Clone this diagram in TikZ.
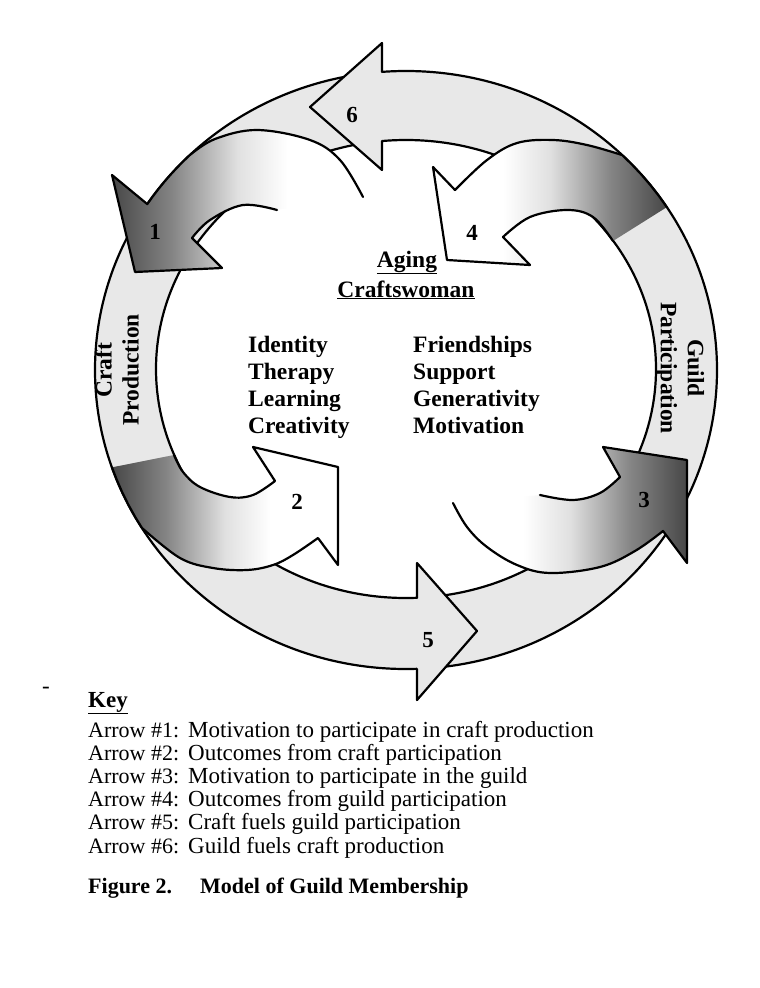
\documentclass[tikz,border=0pt]{standalone}
\usepackage{fontspec}
\setmainfont{Liberation Serif}
% dark at the left end, white at the right end
\pgfdeclarehorizontalshading{tailshade}{100bp}{color(0bp)=(black!72); color(25bp)=(black!72); color(37bp)=(black!48); color(50bp)=(black!12); color(60bp)=(white); color(100bp)=(white)}

\begin{document}
\begin{tikzpicture}[x=1pt, y=-1pt,
    edge/.style={line width=2.2pt, line join=round, line cap=round},
    ringfill/.style={fill=black!9},
    word/.style={font=\fontsize{23.5}{27}\selectfont\bfseries, inner sep=0pt},
    digit/.style={font=\fontsize{23}{26}\selectfont\bfseries, inner sep=0pt},
    keytext/.style={font=\fontsize{23}{26}\selectfont, inner sep=0pt, anchor=base west}]
    \useasboundingbox (0,0) rectangle (760,988);

    % Outer ring (arrows 5 and 6)
    \fill[ringfill, even odd rule] (406,370) ellipse [x radius=311, y radius=299] (406,369) ellipse [x radius=250, y radius=229];
    \draw[edge] (406,370) ellipse [x radius=311, y radius=299];
    \draw[edge] (406,369) ellipse [x radius=250, y radius=229];

    % Head of arrow 6 (top, pointing left)
    \fill[ringfill] (382,43) -- (310,107) -- (382,170) -- cycle;
    \draw[edge] (382,72) -- (382,43) -- (310,107) -- (382,170) -- (382,141);
    % Head of arrow 5 (bottom, pointing right)
    \fill[ringfill] (417,563) -- (477,631) -- (417,700) -- cycle;
    \draw[edge] (417,598) -- (417,563) -- (477,631) -- (417,700) -- (417,669);

    % Arrow 1 (top left, into craft production)
    \shade[shading=tailshade] (363,197) -- plot[smooth, tension=0.6] coordinates {(363,197) (340,160) (310,140) (257,130) (215,139) (190,155)}
        -- plot[domain=226:213.7, samples=8] ({406+311*cos(\x)}, {370+299*sin(\x)})
        -- (112,175) -- (135,272) -- (222,268) -- (192,238)
        -- plot[smooth, tension=0.6] coordinates {(192,238) (210,220) (243,205) (277,210)} -- cycle;
    \draw[edge] (363,197) -- plot[smooth, tension=0.6] coordinates {(363,197) (340,160) (310,140) (257,130) (215,139) (190,155)}
        -- plot[domain=226:213.7, samples=8] ({406+311*cos(\x)}, {370+299*sin(\x)})
        -- (112,175) -- (135,272) -- (222,268) -- (192,238)
        -- plot[smooth, tension=0.6] coordinates {(192,238) (210,220) (243,205) (277,210)};

    % Arrow 2 (bottom left, out of craft production)
    \shade[shading=tailshade] plot[domain=161:148, samples=6] ({406+311*cos(\x)}, {370+299*sin(\x)})
        -- plot[smooth, tension=0.6] coordinates {(142,528) (180,558) (213,568) (247,570) (273,565) (293,555) (318,538)}
        -- (338,565) -- (338,467) -- (253,447) -- (275,481)
        -- plot[smooth, tension=0.6] coordinates {(275,481) (253,495) (230,497) (200,487) (183,472) (174,455)} -- cycle;
    \draw[edge] plot[domain=161:148, samples=6] ({406+311*cos(\x)}, {370+299*sin(\x)})
        -- plot[smooth, tension=0.6] coordinates {(142,528) (180,558) (213,568) (247,570) (273,565) (293,555) (318,538)}
        -- (338,565) -- (338,467) -- (253,447) -- (275,481)
        -- plot[smooth, tension=0.6] coordinates {(275,481) (253,495) (230,497) (200,487) (183,472) (174,455)};

    % Arrow 4 (top right, out of guild participation)
    \shade[shading=tailshade, shading angle=180] (455,190) -- plot[smooth, tension=0.6] coordinates {(455,190) (487,160) (517,143) (553,140) (587,145) (622,155)}
        -- plot[domain=-46:-33, samples=6] ({406+311*cos(\x)}, {370+299*sin(\x)})
        -- (613,241) -- plot[smooth, tension=0.6] coordinates {(613,241) (593,217) (567,210) (530,217) (503,237)}
        -- (530,265) -- (447,260) -- (433,167) -- cycle;
    \draw[edge] plot[smooth, tension=0.6] coordinates {(613,241) (593,217) (567,210) (530,217) (503,237)}
        -- (530,265) -- (447,260) -- (433,167) -- (455,190)
        -- plot[smooth, tension=0.6] coordinates {(455,190) (487,160) (517,143) (553,140) (587,145) (622,155)}
        -- plot[domain=-46:-33, samples=6] ({406+311*cos(\x)}, {370+299*sin(\x)});

    % Arrow 3 (bottom right, into guild participation)
    \shade[shading=tailshade, shading angle=180] (453,503) -- plot[smooth, tension=0.6] coordinates {(453,503) (467,527) (487,547) (517,565) (550,573) (600,567) (635,551) (663,531)}
        -- (687,563) -- (687,460) -- (603,447) -- (620,477)
        -- plot[smooth, tension=0.6] coordinates {(620,477) (600,493) (573,500) (540,495)} -- cycle;
    \draw[edge] (453,503) -- plot[smooth, tension=0.6] coordinates {(453,503) (467,527) (487,547) (517,565) (550,573) (600,567) (635,551) (663,531)}
        -- (687,563) -- (687,460) -- (603,447) -- (620,477)
        -- plot[smooth, tension=0.6] coordinates {(620,477) (600,493) (573,500) (540,495)};

    % Arrow numbers
    \foreach \n/\px/\py in {1/155/232, 2/297/502, 3/644/500, 4/472/233, 5/428/640, 6/352/115}
        \node[digit] (num\n) at (\px,\py) {\n};

    % Ring labels
    \node[word, rotate=90, align=center] (craft) at (117,370) {Craft\\Production};
    \node[word, rotate=-90, align=center] (guild) at (680,368) {Guild\\Participation};

    % Centre of the model
    \node[word, anchor=base] (aging) at (407,267) {\underline{Aging}};
    \node[word, anchor=base] (craftswoman) at (406,297) {\underline{Craftswoman}};
    \foreach \w [count=\i] in {Identity, Therapy, Learning, Creativity}
        \node[word, anchor=base west] (craftgain\i) at (248,{352+27.3*(\i-1)}) {\w};
    \foreach \w [count=\i] in {Friendships, Support, Generativity, Motivation}
        \node[word, anchor=base west] (guildgain\i) at (413,{352+27.3*(\i-1)}) {\w};

    % Key
    \node[keytext] (dash) at (42,693) {-};
    \node[keytext, font=\fontsize{23}{26}\selectfont\bfseries] (key) at (88,707) {\underline{Key}};
    \foreach \txt [count=\i] in {Motivation to participate in craft production, Outcomes from craft participation, Motivation to participate in the guild, Outcomes from guild participation, Craft fuels guild participation, Guild fuels craft production} {
        \node[keytext, font=\fontsize{22}{26}\selectfont] (arrow\i) at (88,{737+23.2*(\i-1)}) {Arrow \#\i:};
        \node[keytext] (meaning\i) at (188,{737+23.2*(\i-1)}) {\txt};
    }

    % Caption
    \node[keytext, font=\fontsize{22}{25}\selectfont\bfseries] (figno) at (88,893) {Figure 2.};
    \node[keytext, font=\fontsize{22}{25}\selectfont\bfseries] (figtitle) at (200,893) {Model of Guild Membership};
\end{tikzpicture}
\end{document}
